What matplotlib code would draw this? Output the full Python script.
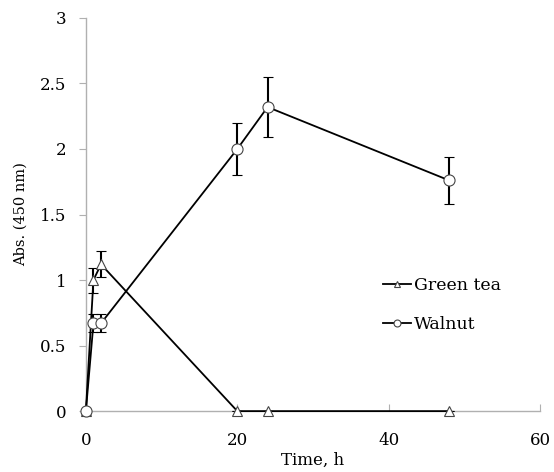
import numpy as np
import matplotlib.pyplot as plt
from matplotlib.lines import Line2D

plt.rcParams['font.family'] = ['DejaVu Serif']

# sampling times (h) and absorbance at 450 nm
time_h = [0, 1, 2, 20, 24, 48]
green_tea = [0, 1.0, 1.12, 0, 0, 0]
green_tea_err = [0, 0.095, 0.1, 0, 0, 0]
walnut = [0, 0.67, 0.67, 2.0, 2.32, 1.76]
walnut_err = [0, 0.07, 0.07, 0.2, 0.23, 0.18]

fig = plt.figure(figsize=(5.54, 4.72), dpi=100)
ax = fig.add_axes([0.155, 0.129, 0.82, 0.833])

for y, err, mk, ms in [(green_tea, green_tea_err, '^', 7.5),
                       (walnut, walnut_err, 'o', 8)]:
    line, caps, bars = ax.errorbar(time_h, y, yerr=err, color='black', lw=1.3,
                                   marker=mk, ms=ms, mfc='white', mec='#444444',
                                   mew=0.8, capsize=3.5, elinewidth=1.5,
                                   capthick=1.5, zorder=3)
    line.set_clip_on(False)

ax.set_xlim(0, 60)
ax.set_ylim(0, 3)
ax.set_xticks([0, 20, 40, 60])
ax.set_yticks([0, 0.5, 1, 1.5, 2, 2.5, 3])
ax.set_yticklabels(['0', '0.5', '1', '1.5', '2', '2.5', '3'])

for side in ['top', 'right']:
    ax.spines[side].set_visible(False)
for side in ['left', 'bottom']:
    ax.spines[side].set_color('#b0b0b0')
    ax.spines[side].set_linewidth(1.0)

ax.tick_params(axis='y', direction='out', length=5, color='#b0b0b0',
               labelsize=12, pad=9)
ax.tick_params(axis='x', direction='in', length=5, color='#b0b0b0',
               labelsize=12, pad=15)

ax.set_xlabel('Time, h', fontsize=12, labelpad=2)
ax.set_ylabel('Abs. (450 nm)', fontsize=10.5, labelpad=9)

handles = [
    Line2D([], [], color='black', lw=1.3, marker='^', ms=5, mfc='white',
           mec='#444444', mew=0.8),
    Line2D([], [], color='black', lw=1.3, marker='o', ms=5, mfc='white',
           mec='#444444', mew=0.8),
]
ax.legend(handles, ['Green tea', 'Walnut'], loc='center left',
          bbox_to_anchor=(0.62, 0.27), frameon=False, fontsize=12.5,
          handlelength=1.6, handletextpad=0.15, labelspacing=1.25)

fig.savefig('out.png', dpi=100)
